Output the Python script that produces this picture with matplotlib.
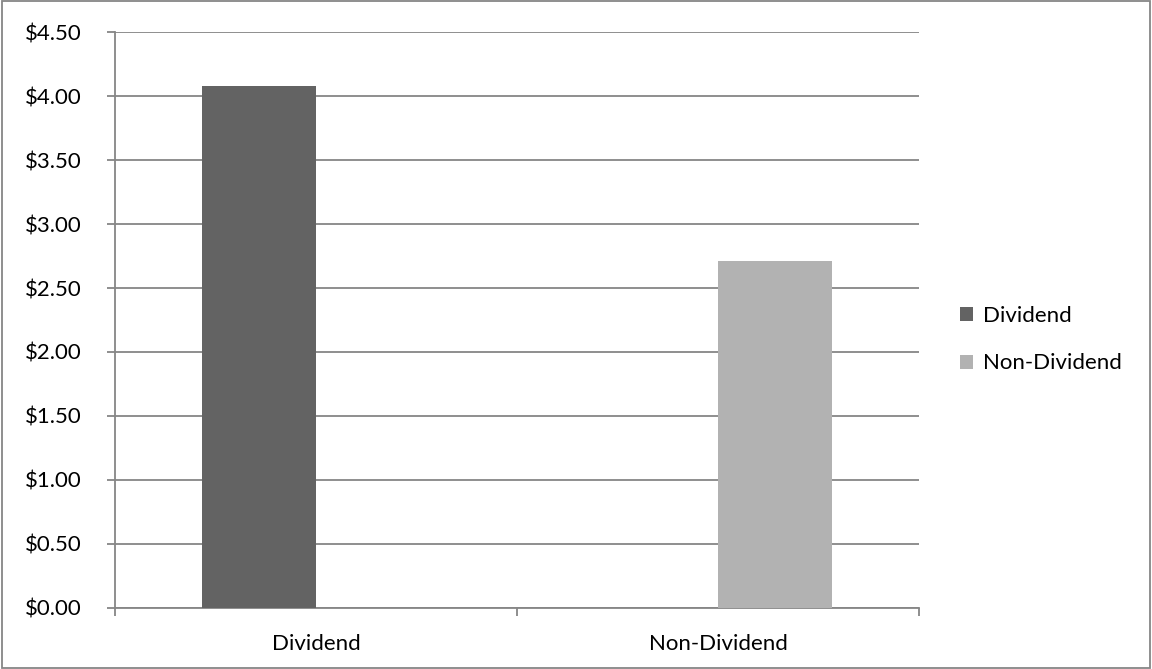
import matplotlib.pyplot as plt
import numpy as np
from matplotlib.patches import Rectangle
from matplotlib.ticker import FuncFormatter, MultipleLocator

categories = ["Dividend", "Non-Dividend"]
dividend = [4.08, 0.0]
non_dividend = [0.0, 2.71]

plt.rcParams["font.family"] = ["Lato", "DejaVu Sans"]

grid_col = "#868686"
fig = plt.figure(figsize=(11.52, 6.69), dpi=100)
ax = fig.add_axes([0.0998, 0.0916, 0.6979, 0.8601])

x = np.arange(len(categories))
w = 0.284
ax.bar(x - w / 2, dividend, w, color="#636363", label="Dividend", zorder=3)
ax.bar(x + w / 2, non_dividend, w, color="#b2b2b2", label="Non-Dividend", zorder=3)

ax.set_xlim(-0.5, 1.5)
ax.set_ylim(0, 4.5)
ax.yaxis.set_major_locator(MultipleLocator(0.5))
ax.yaxis.set_major_formatter(FuncFormatter(lambda v, p: f"${v:.2f}"))
ax.grid(axis="y", color=grid_col, linewidth=1.3, zorder=0)

# category labels centred, tick marks between categories
ax.set_xticks([-0.5, 0.5, 1.5])
ax.set_xticklabels([])
ax.set_xticks(x, minor=True)
ax.set_xticklabels(categories, minor=True)
ax.tick_params(axis="x", which="major", length=6, width=1.3, color=grid_col)
ax.tick_params(axis="x", which="minor", length=0, pad=19, labelsize=16)
ax.tick_params(axis="y", length=6, width=1.3, color=grid_col, pad=18, labelsize=16)

for s in ["top", "right"]:
    ax.spines[s].set_visible(False)
for s in ["left", "bottom"]:
    ax.spines[s].set_color(grid_col)
    ax.spines[s].set_linewidth(1.3)

ax.legend(loc="center left", bbox_to_anchor=(1.026, 0.466), frameon=False,
          fontsize=16, handlelength=0.6, handleheight=0.6,
          handletextpad=0.45, labelspacing=1.25)

fig.patches.append(Rectangle((0.002, 0.002), 0.996, 0.996, transform=fig.transFigure,
                             fill=False, edgecolor=grid_col, linewidth=1.3))

fig.savefig("out.png", dpi=100)
